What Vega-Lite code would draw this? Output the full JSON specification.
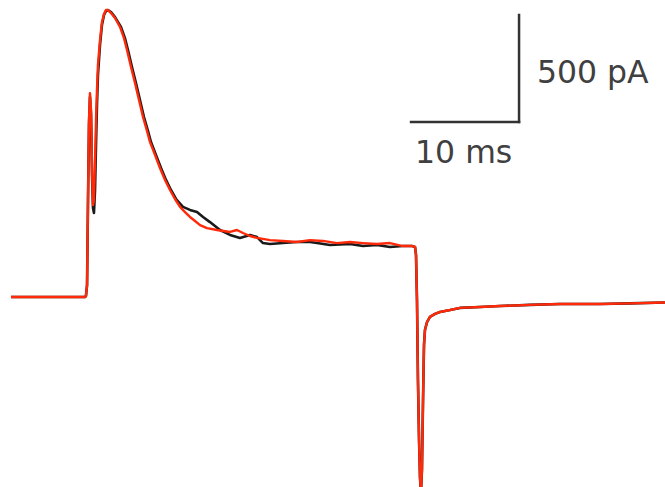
{
  "$schema": "https://vega.github.io/schema/vega-lite/v6.json",
  "width": 665,
  "height": 487,
  "autosize": {"type": "fit", "contains": "padding"},
  "padding": 0,
  "background": "white",
  "config": {"view": {"stroke": null}},
  "datasets": {
    "black": [
      {"t": 1.02, "i": 0}, {"t": 7.87, "i": 0}, {"t": 7.96, "i": 4.7}, {"t": 8.06, "i": 56},
      {"t": 8.15, "i": 453}, {"t": 8.24, "i": 804}, {"t": 8.33, "i": 935}, {"t": 8.43, "i": 850},
      {"t": 8.52, "i": 570}, {"t": 8.61, "i": 416}, {"t": 8.70, "i": 393}, {"t": 8.80, "i": 500},
      {"t": 8.89, "i": 710}, {"t": 8.98, "i": 897}, {"t": 9.07, "i": 1037}, {"t": 9.26, "i": 1178},
      {"t": 9.44, "i": 1271}, {"t": 9.63, "i": 1318}, {"t": 9.81, "i": 1336}, {"t": 10.0, "i": 1341},
      {"t": 10.28, "i": 1332}, {"t": 10.65, "i": 1308}, {"t": 11.20, "i": 1262}, {"t": 11.57, "i": 1210},
      {"t": 11.85, "i": 1154}, {"t": 12.22, "i": 1075}, {"t": 12.59, "i": 1000}, {"t": 12.96, "i": 921},
      {"t": 13.33, "i": 841}, {"t": 13.70, "i": 776}, {"t": 13.98, "i": 724}, {"t": 14.44, "i": 664},
      {"t": 14.91, "i": 603}, {"t": 15.37, "i": 547}, {"t": 15.83, "i": 500}, {"t": 16.30, "i": 458},
      {"t": 16.94, "i": 421}, {"t": 17.59, "i": 407}, {"t": 18.24, "i": 397}, {"t": 18.80, "i": 374},
      {"t": 19.44, "i": 350}, {"t": 20.37, "i": 313}, {"t": 21.30, "i": 290}, {"t": 22.22, "i": 276},
      {"t": 23.15, "i": 290}, {"t": 23.80, "i": 280}, {"t": 24.35, "i": 252}, {"t": 25.00, "i": 248},
      {"t": 26.20, "i": 252}, {"t": 27.50, "i": 257}, {"t": 28.70, "i": 257}, {"t": 29.35, "i": 252},
      {"t": 30.56, "i": 243}, {"t": 32.41, "i": 248}, {"t": 33.61, "i": 238}, {"t": 34.91, "i": 243},
      {"t": 36.11, "i": 234}, {"t": 37.31, "i": 238}, {"t": 38.15, "i": 238}, {"t": 38.43, "i": 234},
      {"t": 38.52, "i": 196}, {"t": 38.61, "i": -14}, {"t": 38.70, "i": -388}, {"t": 38.80, "i": -668},
      {"t": 38.89, "i": -846}, {"t": 38.98, "i": -911}, {"t": 39.07, "i": -808}, {"t": 39.17, "i": -481},
      {"t": 39.26, "i": -224}, {"t": 39.35, "i": -154}, {"t": 39.54, "i": -117}, {"t": 39.81, "i": -93},
      {"t": 40.28, "i": -79}, {"t": 40.74, "i": -70}, {"t": 41.67, "i": -61}, {"t": 42.59, "i": -51},
      {"t": 44.44, "i": -47}, {"t": 46.30, "i": -42}, {"t": 49.07, "i": -37}, {"t": 51.85, "i": -33},
      {"t": 55.56, "i": -33}, {"t": 58.33, "i": -30}, {"t": 61.57, "i": -26}
    ],
    "red": [
      {"t": 1.02, "i": 0}, {"t": 7.87, "i": 0}, {"t": 7.96, "i": 4.7}, {"t": 8.06, "i": 56},
      {"t": 8.15, "i": 453}, {"t": 8.24, "i": 827}, {"t": 8.33, "i": 953}, {"t": 8.43, "i": 874},
      {"t": 8.52, "i": 593}, {"t": 8.61, "i": 430}, {"t": 8.70, "i": 453}, {"t": 8.80, "i": 640},
      {"t": 8.89, "i": 827}, {"t": 8.98, "i": 967}, {"t": 9.07, "i": 1084}, {"t": 9.26, "i": 1201},
      {"t": 9.44, "i": 1285}, {"t": 9.63, "i": 1322}, {"t": 9.81, "i": 1341}, {"t": 10.0, "i": 1341},
      {"t": 10.28, "i": 1327}, {"t": 10.65, "i": 1304}, {"t": 11.11, "i": 1262}, {"t": 11.48, "i": 1210},
      {"t": 11.76, "i": 1154}, {"t": 12.13, "i": 1075}, {"t": 12.50, "i": 1000}, {"t": 12.87, "i": 921},
      {"t": 13.24, "i": 841}, {"t": 13.61, "i": 776}, {"t": 13.89, "i": 724}, {"t": 14.35, "i": 664},
      {"t": 14.81, "i": 603}, {"t": 15.28, "i": 547}, {"t": 15.74, "i": 500}, {"t": 16.20, "i": 458},
      {"t": 16.67, "i": 421}, {"t": 17.13, "i": 397}, {"t": 17.59, "i": 374}, {"t": 18.06, "i": 355},
      {"t": 18.52, "i": 336}, {"t": 19.17, "i": 322}, {"t": 20.09, "i": 313}, {"t": 21.30, "i": 304},
      {"t": 21.94, "i": 313}, {"t": 22.50, "i": 299}, {"t": 23.15, "i": 285}, {"t": 23.80, "i": 276},
      {"t": 25.00, "i": 266}, {"t": 26.20, "i": 262}, {"t": 27.50, "i": 257}, {"t": 28.70, "i": 266},
      {"t": 29.91, "i": 262}, {"t": 31.20, "i": 252}, {"t": 32.41, "i": 257}, {"t": 33.61, "i": 252},
      {"t": 34.91, "i": 248}, {"t": 36.11, "i": 252}, {"t": 37.31, "i": 238}, {"t": 38.15, "i": 238},
      {"t": 38.43, "i": 234}, {"t": 38.52, "i": 196}, {"t": 38.61, "i": -14}, {"t": 38.70, "i": -388},
      {"t": 38.80, "i": -668}, {"t": 38.89, "i": -846}, {"t": 38.98, "i": -911}, {"t": 39.07, "i": -808},
      {"t": 39.17, "i": -481}, {"t": 39.26, "i": -224}, {"t": 39.35, "i": -154}, {"t": 39.54, "i": -117},
      {"t": 39.81, "i": -93}, {"t": 40.28, "i": -79}, {"t": 40.74, "i": -70}, {"t": 41.67, "i": -61},
      {"t": 42.59, "i": -51}, {"t": 44.44, "i": -47}, {"t": 46.30, "i": -42}, {"t": 49.07, "i": -37},
      {"t": 51.85, "i": -33}, {"t": 55.56, "i": -33}, {"t": 58.33, "i": -30}, {"t": 61.57, "i": -26}
    ],
    "bars": [
      {"t": 38.06, "t2": 48.06, "i": 818, "i2": 818},
      {"t": 48.06, "t2": 48.06, "i": 818, "i2": 1318}
    ],
    "labels": [
      {"t": 49.72, "i": 1000, "label": "500 pA"},
      {"t": 38.43, "i": 626, "label": "10 ms"}
    ]
  },
  "layer": [
    {
      "data": {"name": "black"},
      "mark": {"type": "line", "color": "#1a1a1a", "strokeWidth": 2.6, "strokeJoin": "round", "clip": true},
      "encoding": {
        "x": {"field": "t", "type": "quantitative", "scale": {"domain": [0, 61.574], "nice": false, "zero": false}, "axis": null},
        "y": {"field": "i", "type": "quantitative", "scale": {"domain": [-888, 1388], "nice": false, "zero": false}, "axis": null}
      }
    },
    {
      "data": {"name": "red"},
      "mark": {"type": "line", "color": "#ff2a0a", "strokeWidth": 2.4, "strokeJoin": "round", "clip": true},
      "encoding": {
        "x": {"field": "t", "type": "quantitative"},
        "y": {"field": "i", "type": "quantitative"}
      }
    },
    {
      "data": {"name": "bars"},
      "mark": {"type": "rule", "color": "#333333", "strokeWidth": 2.5, "strokeCap": "square"},
      "encoding": {
        "x": {"field": "t", "type": "quantitative"},
        "x2": {"field": "t2"},
        "y": {"field": "i", "type": "quantitative"},
        "y2": {"field": "i2"}
      }
    },
    {
      "data": {"name": "labels"},
      "mark": {"type": "text", "align": "left", "baseline": "alphabetic", "font": "DejaVu Sans", "fontSize": 31.5, "color": "#404040"},
      "encoding": {
        "x": {"field": "t", "type": "quantitative"},
        "y": {"field": "i", "type": "quantitative"},
        "text": {"field": "label"}
      }
    }
  ]
}
